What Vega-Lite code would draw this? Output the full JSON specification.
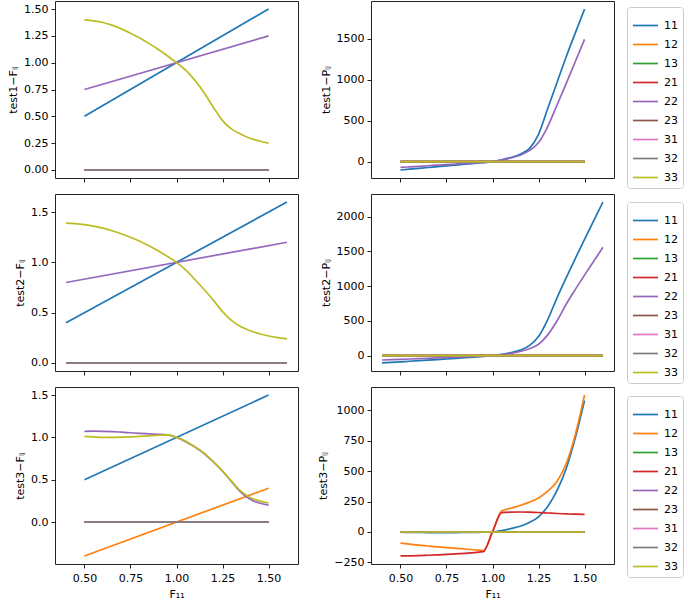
{
  "$schema": "https://vega.github.io/schema/vega-lite/v6.json",
  "padding": {"left": 7, "top": 0, "right": 0, "bottom": 0},
  "background": "white",
  "datasets": {
    "d": [
      {"p":"1F","c":"11","x":0.5,"y":0.5},{"p":"1F","c":"11","x":1.5,"y":1.5},
      {"p":"1F","c":"12","x":0.5,"y":0},{"p":"1F","c":"12","x":1.5,"y":0},
      {"p":"1F","c":"13","x":0.5,"y":0},{"p":"1F","c":"13","x":1.5,"y":0},
      {"p":"1F","c":"21","x":0.5,"y":0},{"p":"1F","c":"21","x":1.5,"y":0},
      {"p":"1F","c":"22","x":0.5,"y":0.75},{"p":"1F","c":"22","x":1.5,"y":1.25},
      {"p":"1F","c":"23","x":0.5,"y":0},{"p":"1F","c":"23","x":1.5,"y":0},
      {"p":"1F","c":"31","x":0.5,"y":0},{"p":"1F","c":"31","x":1.5,"y":0},
      {"p":"1F","c":"32","x":0.5,"y":0},{"p":"1F","c":"32","x":1.5,"y":0},
      {"p":"1F","c":"33","x":0.5,"y":1.4},{"p":"1F","c":"33","x":0.55,"y":1.39},{"p":"1F","c":"33","x":0.6,"y":1.375},{"p":"1F","c":"33","x":0.65,"y":1.35},{"p":"1F","c":"33","x":0.7,"y":1.315},{"p":"1F","c":"33","x":0.75,"y":1.275},{"p":"1F","c":"33","x":0.8,"y":1.23},{"p":"1F","c":"33","x":0.85,"y":1.18},{"p":"1F","c":"33","x":0.9,"y":1.125},{"p":"1F","c":"33","x":0.95,"y":1.065},{"p":"1F","c":"33","x":1.0,"y":1.0},{"p":"1F","c":"33","x":1.05,"y":0.93},{"p":"1F","c":"33","x":1.1,"y":0.835},{"p":"1F","c":"33","x":1.15,"y":0.72},{"p":"1F","c":"33","x":1.2,"y":0.585},{"p":"1F","c":"33","x":1.25,"y":0.46},{"p":"1F","c":"33","x":1.3,"y":0.38},{"p":"1F","c":"33","x":1.35,"y":0.333},{"p":"1F","c":"33","x":1.4,"y":0.295},{"p":"1F","c":"33","x":1.45,"y":0.27},{"p":"1F","c":"33","x":1.5,"y":0.25},

      {"p":"2F","c":"11","x":0.4,"y":0.4},{"p":"2F","c":"11","x":1.6,"y":1.6},
      {"p":"2F","c":"12","x":0.4,"y":0},{"p":"2F","c":"12","x":1.6,"y":0},
      {"p":"2F","c":"13","x":0.4,"y":0},{"p":"2F","c":"13","x":1.6,"y":0},
      {"p":"2F","c":"21","x":0.4,"y":0},{"p":"2F","c":"21","x":1.6,"y":0},
      {"p":"2F","c":"22","x":0.4,"y":0.8},{"p":"2F","c":"22","x":1.6,"y":1.2},
      {"p":"2F","c":"23","x":0.4,"y":0},{"p":"2F","c":"23","x":1.6,"y":0},
      {"p":"2F","c":"31","x":0.4,"y":0},{"p":"2F","c":"31","x":1.6,"y":0},
      {"p":"2F","c":"32","x":0.4,"y":0},{"p":"2F","c":"32","x":1.6,"y":0},
      {"p":"2F","c":"33","x":0.4,"y":1.39},{"p":"2F","c":"33","x":0.45,"y":1.385},{"p":"2F","c":"33","x":0.5,"y":1.375},{"p":"2F","c":"33","x":0.55,"y":1.36},{"p":"2F","c":"33","x":0.6,"y":1.34},{"p":"2F","c":"33","x":0.65,"y":1.315},{"p":"2F","c":"33","x":0.7,"y":1.285},{"p":"2F","c":"33","x":0.75,"y":1.25},{"p":"2F","c":"33","x":0.8,"y":1.21},{"p":"2F","c":"33","x":0.85,"y":1.165},{"p":"2F","c":"33","x":0.9,"y":1.115},{"p":"2F","c":"33","x":0.95,"y":1.06},{"p":"2F","c":"33","x":1.0,"y":1.0},{"p":"2F","c":"33","x":1.05,"y":0.925},{"p":"2F","c":"33","x":1.1,"y":0.83},{"p":"2F","c":"33","x":1.15,"y":0.73},{"p":"2F","c":"33","x":1.2,"y":0.625},{"p":"2F","c":"33","x":1.25,"y":0.51},{"p":"2F","c":"33","x":1.3,"y":0.42},{"p":"2F","c":"33","x":1.35,"y":0.36},{"p":"2F","c":"33","x":1.4,"y":0.32},{"p":"2F","c":"33","x":1.45,"y":0.29},{"p":"2F","c":"33","x":1.5,"y":0.268},{"p":"2F","c":"33","x":1.55,"y":0.252},{"p":"2F","c":"33","x":1.6,"y":0.24},

      {"p":"3F","c":"11","x":0.5,"y":0.5},{"p":"3F","c":"11","x":1.5,"y":1.5},
      {"p":"3F","c":"12","x":0.5,"y":-0.4},{"p":"3F","c":"12","x":1.5,"y":0.4},
      {"p":"3F","c":"13","x":0.5,"y":0},{"p":"3F","c":"13","x":1.5,"y":0},
      {"p":"3F","c":"21","x":0.5,"y":0},{"p":"3F","c":"21","x":1.5,"y":0},
      {"p":"3F","c":"22","x":0.5,"y":1.072},{"p":"3F","c":"22","x":0.55,"y":1.073},{"p":"3F","c":"22","x":0.6,"y":1.072},{"p":"3F","c":"22","x":0.65,"y":1.068},{"p":"3F","c":"22","x":0.7,"y":1.062},{"p":"3F","c":"22","x":0.75,"y":1.055},{"p":"3F","c":"22","x":0.8,"y":1.048},{"p":"3F","c":"22","x":0.85,"y":1.042},{"p":"3F","c":"22","x":0.9,"y":1.036},{"p":"3F","c":"22","x":0.95,"y":1.03},{"p":"3F","c":"22","x":1.0,"y":1.0},{"p":"3F","c":"22","x":1.05,"y":0.95},{"p":"3F","c":"22","x":1.1,"y":0.885},{"p":"3F","c":"22","x":1.15,"y":0.81},{"p":"3F","c":"22","x":1.2,"y":0.71},{"p":"3F","c":"22","x":1.25,"y":0.6},{"p":"3F","c":"22","x":1.3,"y":0.475},{"p":"3F","c":"22","x":1.35,"y":0.35},{"p":"3F","c":"22","x":1.4,"y":0.27},{"p":"3F","c":"22","x":1.45,"y":0.225},{"p":"3F","c":"22","x":1.5,"y":0.2},
      {"p":"3F","c":"23","x":0.5,"y":0},{"p":"3F","c":"23","x":1.5,"y":0},
      {"p":"3F","c":"31","x":0.5,"y":0},{"p":"3F","c":"31","x":1.5,"y":0},
      {"p":"3F","c":"32","x":0.5,"y":0},{"p":"3F","c":"32","x":1.5,"y":0},
      {"p":"3F","c":"33","x":0.5,"y":1.012},{"p":"3F","c":"33","x":0.55,"y":1.005},{"p":"3F","c":"33","x":0.6,"y":1.0},{"p":"3F","c":"33","x":0.65,"y":1.0},{"p":"3F","c":"33","x":0.7,"y":1.002},{"p":"3F","c":"33","x":0.75,"y":1.006},{"p":"3F","c":"33","x":0.8,"y":1.012},{"p":"3F","c":"33","x":0.85,"y":1.018},{"p":"3F","c":"33","x":0.9,"y":1.025},{"p":"3F","c":"33","x":0.95,"y":1.03},{"p":"3F","c":"33","x":1.0,"y":1.0},{"p":"3F","c":"33","x":1.05,"y":0.955},{"p":"3F","c":"33","x":1.1,"y":0.89},{"p":"3F","c":"33","x":1.15,"y":0.815},{"p":"3F","c":"33","x":1.2,"y":0.715},{"p":"3F","c":"33","x":1.25,"y":0.605},{"p":"3F","c":"33","x":1.3,"y":0.48},{"p":"3F","c":"33","x":1.35,"y":0.365},{"p":"3F","c":"33","x":1.4,"y":0.29},{"p":"3F","c":"33","x":1.45,"y":0.25},{"p":"3F","c":"33","x":1.5,"y":0.225},

      {"p":"1P","c":"11","x":0.5,"y":-101},{"p":"1P","c":"11","x":0.55,"y":-91},{"p":"1P","c":"11","x":0.6,"y":-81},{"p":"1P","c":"11","x":0.65,"y":-71},{"p":"1P","c":"11","x":0.7,"y":-61},{"p":"1P","c":"11","x":0.75,"y":-51},{"p":"1P","c":"11","x":0.8,"y":-41},{"p":"1P","c":"11","x":0.85,"y":-31},{"p":"1P","c":"11","x":0.9,"y":-21},{"p":"1P","c":"11","x":0.95,"y":-10},{"p":"1P","c":"11","x":1.0,"y":0},{"p":"1P","c":"11","x":1.05,"y":24},{"p":"1P","c":"11","x":1.1,"y":52},{"p":"1P","c":"11","x":1.15,"y":92},{"p":"1P","c":"11","x":1.2,"y":160},{"p":"1P","c":"11","x":1.25,"y":335},{"p":"1P","c":"11","x":1.3,"y":650},{"p":"1P","c":"11","x":1.35,"y":965},{"p":"1P","c":"11","x":1.4,"y":1280},{"p":"1P","c":"11","x":1.45,"y":1575},{"p":"1P","c":"11","x":1.5,"y":1865},
      {"p":"1P","c":"12","x":0.5,"y":0},{"p":"1P","c":"12","x":1.5,"y":0},
      {"p":"1P","c":"13","x":0.5,"y":0},{"p":"1P","c":"13","x":1.5,"y":0},
      {"p":"1P","c":"21","x":0.5,"y":0},{"p":"1P","c":"21","x":1.5,"y":0},
      {"p":"1P","c":"22","x":0.5,"y":-70},{"p":"1P","c":"22","x":0.55,"y":-63},{"p":"1P","c":"22","x":0.6,"y":-56},{"p":"1P","c":"22","x":0.65,"y":-49},{"p":"1P","c":"22","x":0.7,"y":-42},{"p":"1P","c":"22","x":0.75,"y":-35},{"p":"1P","c":"22","x":0.8,"y":-28},{"p":"1P","c":"22","x":0.85,"y":-21},{"p":"1P","c":"22","x":0.9,"y":-14},{"p":"1P","c":"22","x":0.95,"y":-7},{"p":"1P","c":"22","x":1.0,"y":0},{"p":"1P","c":"22","x":1.05,"y":20},{"p":"1P","c":"22","x":1.1,"y":45},{"p":"1P","c":"22","x":1.15,"y":80},{"p":"1P","c":"22","x":1.2,"y":135},{"p":"1P","c":"22","x":1.25,"y":235},{"p":"1P","c":"22","x":1.3,"y":430},{"p":"1P","c":"22","x":1.35,"y":690},{"p":"1P","c":"22","x":1.4,"y":955},{"p":"1P","c":"22","x":1.45,"y":1225},{"p":"1P","c":"22","x":1.5,"y":1495},
      {"p":"1P","c":"23","x":0.5,"y":0},{"p":"1P","c":"23","x":1.5,"y":0},
      {"p":"1P","c":"31","x":0.5,"y":0},{"p":"1P","c":"31","x":1.5,"y":0},
      {"p":"1P","c":"32","x":0.5,"y":0},{"p":"1P","c":"32","x":1.5,"y":0},
      {"p":"1P","c":"33","x":0.5,"y":0},{"p":"1P","c":"33","x":1.5,"y":0},

      {"p":"2P","c":"11","x":0.4,"y":-104},{"p":"2P","c":"11","x":0.45,"y":-96},{"p":"2P","c":"11","x":0.5,"y":-88},{"p":"2P","c":"11","x":0.55,"y":-80},{"p":"2P","c":"11","x":0.6,"y":-72},{"p":"2P","c":"11","x":0.65,"y":-64},{"p":"2P","c":"11","x":0.7,"y":-56},{"p":"2P","c":"11","x":0.75,"y":-47},{"p":"2P","c":"11","x":0.8,"y":-38},{"p":"2P","c":"11","x":0.85,"y":-29},{"p":"2P","c":"11","x":0.9,"y":-19},{"p":"2P","c":"11","x":0.95,"y":-9},{"p":"2P","c":"11","x":1.0,"y":0},{"p":"2P","c":"11","x":1.05,"y":18},{"p":"2P","c":"11","x":1.1,"y":44},{"p":"2P","c":"11","x":1.15,"y":80},{"p":"2P","c":"11","x":1.2,"y":145},{"p":"2P","c":"11","x":1.25,"y":275},{"p":"2P","c":"11","x":1.3,"y":520},{"p":"2P","c":"11","x":1.35,"y":830},{"p":"2P","c":"11","x":1.4,"y":1120},{"p":"2P","c":"11","x":1.45,"y":1400},{"p":"2P","c":"11","x":1.5,"y":1675},{"p":"2P","c":"11","x":1.55,"y":1945},{"p":"2P","c":"11","x":1.6,"y":2211},
      {"p":"2P","c":"12","x":0.4,"y":0},{"p":"2P","c":"12","x":1.6,"y":0},
      {"p":"2P","c":"13","x":0.4,"y":0},{"p":"2P","c":"13","x":1.6,"y":0},
      {"p":"2P","c":"21","x":0.4,"y":0},{"p":"2P","c":"21","x":1.6,"y":0},
      {"p":"2P","c":"22","x":0.4,"y":-62},{"p":"2P","c":"22","x":0.45,"y":-57},{"p":"2P","c":"22","x":0.5,"y":-52},{"p":"2P","c":"22","x":0.55,"y":-47},{"p":"2P","c":"22","x":0.6,"y":-42},{"p":"2P","c":"22","x":0.65,"y":-37},{"p":"2P","c":"22","x":0.7,"y":-31},{"p":"2P","c":"22","x":0.75,"y":-26},{"p":"2P","c":"22","x":0.8,"y":-21},{"p":"2P","c":"22","x":0.85,"y":-15},{"p":"2P","c":"22","x":0.9,"y":-10},{"p":"2P","c":"22","x":0.95,"y":-5},{"p":"2P","c":"22","x":1.0,"y":0},{"p":"2P","c":"22","x":1.05,"y":14},{"p":"2P","c":"22","x":1.1,"y":33},{"p":"2P","c":"22","x":1.15,"y":60},{"p":"2P","c":"22","x":1.2,"y":100},{"p":"2P","c":"22","x":1.25,"y":165},{"p":"2P","c":"22","x":1.3,"y":300},{"p":"2P","c":"22","x":1.35,"y":500},{"p":"2P","c":"22","x":1.4,"y":740},{"p":"2P","c":"22","x":1.45,"y":955},{"p":"2P","c":"22","x":1.5,"y":1160},{"p":"2P","c":"22","x":1.55,"y":1360},{"p":"2P","c":"22","x":1.6,"y":1560},
      {"p":"2P","c":"23","x":0.4,"y":0},{"p":"2P","c":"23","x":1.6,"y":0},
      {"p":"2P","c":"31","x":0.4,"y":0},{"p":"2P","c":"31","x":1.6,"y":0},
      {"p":"2P","c":"32","x":0.4,"y":0},{"p":"2P","c":"32","x":1.6,"y":0},
      {"p":"2P","c":"33","x":0.4,"y":0},{"p":"2P","c":"33","x":1.6,"y":0},

      {"p":"3P","c":"11","x":0.5,"y":-2},{"p":"3P","c":"11","x":0.55,"y":-3},{"p":"3P","c":"11","x":0.6,"y":-4},{"p":"3P","c":"11","x":0.65,"y":-5},{"p":"3P","c":"11","x":0.7,"y":-5},{"p":"3P","c":"11","x":0.75,"y":-5},{"p":"3P","c":"11","x":0.8,"y":-5},{"p":"3P","c":"11","x":0.85,"y":-4},{"p":"3P","c":"11","x":0.9,"y":-3},{"p":"3P","c":"11","x":0.95,"y":-2},{"p":"3P","c":"11","x":1.0,"y":0},{"p":"3P","c":"11","x":1.05,"y":12},{"p":"3P","c":"11","x":1.1,"y":28},{"p":"3P","c":"11","x":1.15,"y":47},{"p":"3P","c":"11","x":1.2,"y":78},{"p":"3P","c":"11","x":1.25,"y":125},{"p":"3P","c":"11","x":1.3,"y":210},{"p":"3P","c":"11","x":1.35,"y":340},{"p":"3P","c":"11","x":1.4,"y":520},{"p":"3P","c":"11","x":1.45,"y":775},{"p":"3P","c":"11","x":1.5,"y":1080},
      {"p":"3P","c":"12","x":0.5,"y":-92},{"p":"3P","c":"12","x":0.55,"y":-100},{"p":"3P","c":"12","x":0.6,"y":-108},{"p":"3P","c":"12","x":0.65,"y":-115},{"p":"3P","c":"12","x":0.7,"y":-122},{"p":"3P","c":"12","x":0.75,"y":-128},{"p":"3P","c":"12","x":0.8,"y":-134},{"p":"3P","c":"12","x":0.85,"y":-140},{"p":"3P","c":"12","x":0.9,"y":-146},{"p":"3P","c":"12","x":0.95,"y":-152},{"p":"3P","c":"12","x":1.0,"y":5},{"p":"3P","c":"12","x":1.05,"y":172},{"p":"3P","c":"12","x":1.1,"y":195},{"p":"3P","c":"12","x":1.15,"y":218},{"p":"3P","c":"12","x":1.2,"y":245},{"p":"3P","c":"12","x":1.25,"y":280},{"p":"3P","c":"12","x":1.3,"y":335},{"p":"3P","c":"12","x":1.35,"y":415},{"p":"3P","c":"12","x":1.4,"y":560},{"p":"3P","c":"12","x":1.45,"y":800},{"p":"3P","c":"12","x":1.5,"y":1125},
      {"p":"3P","c":"13","x":0.5,"y":0},{"p":"3P","c":"13","x":1.5,"y":0},
      {"p":"3P","c":"21","x":0.5,"y":-197},{"p":"3P","c":"21","x":0.55,"y":-196},{"p":"3P","c":"21","x":0.6,"y":-194},{"p":"3P","c":"21","x":0.65,"y":-191},{"p":"3P","c":"21","x":0.7,"y":-188},{"p":"3P","c":"21","x":0.75,"y":-184},{"p":"3P","c":"21","x":0.8,"y":-180},{"p":"3P","c":"21","x":0.85,"y":-175},{"p":"3P","c":"21","x":0.9,"y":-169},{"p":"3P","c":"21","x":0.95,"y":-162},{"p":"3P","c":"21","x":1.0,"y":0},{"p":"3P","c":"21","x":1.05,"y":159},{"p":"3P","c":"21","x":1.1,"y":163},{"p":"3P","c":"21","x":1.15,"y":164},{"p":"3P","c":"21","x":1.2,"y":163},{"p":"3P","c":"21","x":1.25,"y":160},{"p":"3P","c":"21","x":1.3,"y":156},{"p":"3P","c":"21","x":1.35,"y":152},{"p":"3P","c":"21","x":1.4,"y":149},{"p":"3P","c":"21","x":1.45,"y":146},{"p":"3P","c":"21","x":1.5,"y":145},
      {"p":"3P","c":"22","x":0.5,"y":0},{"p":"3P","c":"22","x":1.5,"y":0},
      {"p":"3P","c":"23","x":0.5,"y":0},{"p":"3P","c":"23","x":1.5,"y":0},
      {"p":"3P","c":"31","x":0.5,"y":0},{"p":"3P","c":"31","x":1.5,"y":0},
      {"p":"3P","c":"32","x":0.5,"y":0},{"p":"3P","c":"32","x":1.5,"y":0},
      {"p":"3P","c":"33","x":0.5,"y":0},{"p":"3P","c":"33","x":1.5,"y":0}
    ]
  },
  "data": {"name": "d"},
  "columns": 2,
  "bounds": "flush",
  "spacing": {"row": 16, "column": 73},
  "resolve": {"scale": {"color": "independent"}, "legend": {"color": "independent"}},
  "concat": [
    {
      "width": 243, "height": 177,
      "transform": [{"filter": "datum.p == '1F'"}],
      "mark": {"type": "line", "interpolate": "monotone", "strokeWidth": 1.7},
      "encoding": {
        "x": {"field": "x", "type": "quantitative", "scale": {"domain": [0.34, 1.66], "nice": false, "zero": false}, "axis": {"title": null, "labels": false, "values": [0.5, 0.75, 1, 1.25, 1.5]}},
        "y": {"field": "y", "type": "quantitative", "scale": {"domain": [-0.075, 1.575], "nice": false, "zero": false}, "axis": {"title": "test1−Fᵢⱼ", "values": [0, 0.25, 0.5, 0.75, 1, 1.25, 1.5], "format": ".2f"}},
        "color": {"field": "c", "type": "nominal", "scale": {"domain": ["11","12","13","21","22","23","31","32","33"], "range": ["#1f77b4","#ff7f0e","#2ca02c","#d62728","#9467bd","#8c564b","#e377c2","#7f7f7f","#bcbd22"]}, "legend": null}
      }
    },
    {
      "width": 243, "height": 177,
      "transform": [{"filter": "datum.p == '1P'"}],
      "mark": {"type": "line", "interpolate": "monotone", "strokeWidth": 1.7},
      "encoding": {
        "x": {"field": "x", "type": "quantitative", "scale": {"domain": [0.34, 1.66], "nice": false, "zero": false}, "axis": {"title": null, "labels": false, "values": [0.5, 0.75, 1, 1.25, 1.5]}},
        "y": {"field": "y", "type": "quantitative", "scale": {"domain": [-199, 1964], "nice": false, "zero": false}, "axis": {"title": "test1−Pᵢⱼ", "values": [0, 500, 1000, 1500], "format": "d"}},
        "color": {"field": "c", "type": "nominal", "scale": {"domain": ["11","12","13","21","22","23","31","32","33"], "range": ["#1f77b4","#ff7f0e","#2ca02c","#d62728","#9467bd","#8c564b","#e377c2","#7f7f7f","#bcbd22"]}, "legend": {"title": null, "orient": "none", "legendX": 256, "legendY": 6, "symbolType": "M-1,0L1,0", "symbolSize": 625, "symbolStrokeWidth": 1.7}}
      }
    },
    {
      "width": 243, "height": 177,
      "transform": [{"filter": "datum.p == '2F'"}],
      "mark": {"type": "line", "interpolate": "monotone", "strokeWidth": 1.7},
      "encoding": {
        "x": {"field": "x", "type": "quantitative", "scale": {"domain": [0.34, 1.66], "nice": false, "zero": false}, "axis": {"title": null, "labels": false, "values": [0.5, 0.75, 1, 1.25, 1.5]}},
        "y": {"field": "y", "type": "quantitative", "scale": {"domain": [-0.08, 1.68], "nice": false, "zero": false}, "axis": {"title": "test2−Fᵢⱼ", "values": [0, 0.5, 1, 1.5], "format": ".1f"}},
        "color": {"field": "c", "type": "nominal", "scale": {"domain": ["11","12","13","21","22","23","31","32","33"], "range": ["#1f77b4","#ff7f0e","#2ca02c","#d62728","#9467bd","#8c564b","#e377c2","#7f7f7f","#bcbd22"]}, "legend": null}
      }
    },
    {
      "width": 243, "height": 177,
      "transform": [{"filter": "datum.p == '2P'"}],
      "mark": {"type": "line", "interpolate": "monotone", "strokeWidth": 1.7},
      "encoding": {
        "x": {"field": "x", "type": "quantitative", "scale": {"domain": [0.34, 1.66], "nice": false, "zero": false}, "axis": {"title": null, "labels": false, "values": [0.5, 0.75, 1, 1.25, 1.5]}},
        "y": {"field": "y", "type": "quantitative", "scale": {"domain": [-220, 2327], "nice": false, "zero": false}, "axis": {"title": "test2−Pᵢⱼ", "values": [0, 500, 1000, 1500, 2000], "format": "d"}},
        "color": {"field": "c", "type": "nominal", "scale": {"domain": ["11","12","13","21","22","23","31","32","33"], "range": ["#1f77b4","#ff7f0e","#2ca02c","#d62728","#9467bd","#8c564b","#e377c2","#7f7f7f","#bcbd22"]}, "legend": {"title": null, "orient": "none", "legendX": 256, "legendY": 8, "symbolType": "M-1,0L1,0", "symbolSize": 625, "symbolStrokeWidth": 1.7}}
      }
    },
    {
      "width": 243, "height": 177,
      "transform": [{"filter": "datum.p == '3F'"}],
      "mark": {"type": "line", "interpolate": "monotone", "strokeWidth": 1.7},
      "encoding": {
        "x": {"field": "x", "type": "quantitative", "scale": {"domain": [0.34, 1.66], "nice": false, "zero": false}, "axis": {"title": "F₁₁", "values": [0.5, 0.75, 1, 1.25, 1.5], "format": ".2f", "labelPadding": 4}},
        "y": {"field": "y", "type": "quantitative", "scale": {"domain": [-0.495, 1.595], "nice": false, "zero": false}, "axis": {"title": "test3−Fᵢⱼ", "values": [0, 0.5, 1, 1.5], "format": ".1f"}},
        "color": {"field": "c", "type": "nominal", "scale": {"domain": ["11","12","13","21","22","23","31","32","33"], "range": ["#1f77b4","#ff7f0e","#2ca02c","#d62728","#9467bd","#8c564b","#e377c2","#7f7f7f","#bcbd22"]}, "legend": null}
      }
    },
    {
      "width": 243, "height": 177,
      "transform": [{"filter": "datum.p == '3P'"}],
      "mark": {"type": "line", "interpolate": "monotone", "strokeWidth": 1.7},
      "encoding": {
        "x": {"field": "x", "type": "quantitative", "scale": {"domain": [0.34, 1.66], "nice": false, "zero": false}, "axis": {"title": "F₁₁", "values": [0.5, 0.75, 1, 1.25, 1.5], "format": ".2f", "labelPadding": 4}},
        "y": {"field": "y", "type": "quantitative", "scale": {"domain": [-263, 1191], "nice": false, "zero": false}, "axis": {"title": "test3−Pᵢⱼ", "values": [-250, 0, 250, 500, 750, 1000], "format": "d"}},
        "color": {"field": "c", "type": "nominal", "scale": {"domain": ["11","12","13","21","22","23","31","32","33"], "range": ["#1f77b4","#ff7f0e","#2ca02c","#d62728","#9467bd","#8c564b","#e377c2","#7f7f7f","#bcbd22"]}, "legend": {"title": null, "orient": "none", "legendX": 256, "legendY": 9, "symbolType": "M-1,0L1,0", "symbolSize": 625, "symbolStrokeWidth": 1.7}}
      }
    }
  ],
  "config": {
    "font": "DejaVu Sans",
    "view": {"stroke": "#222", "strokeWidth": 1},
    "axis": {
      "grid": false, "domain": false,
      "ticks": true, "tickSize": 4, "tickColor": "#222", "tickWidth": 1,
      "labelFont": "DejaVu Sans", "labelFontSize": 11, "labelColor": "#000", "labelPadding": 3,
      "titleFont": "DejaVu Sans", "titleFontSize": 11, "titleFontWeight": "normal", "titleColor": "#000", "titlePadding": 5
    },
    "legend": {
      "labelFont": "DejaVu Sans", "labelFontSize": 11, "labelColor": "#000",
      "strokeColor": "#ccc", "fillColor": "white", "cornerRadius": 3, "padding": 5,
      "rowPadding": -1.5, "labelOffset": 5
    }
  }
}
